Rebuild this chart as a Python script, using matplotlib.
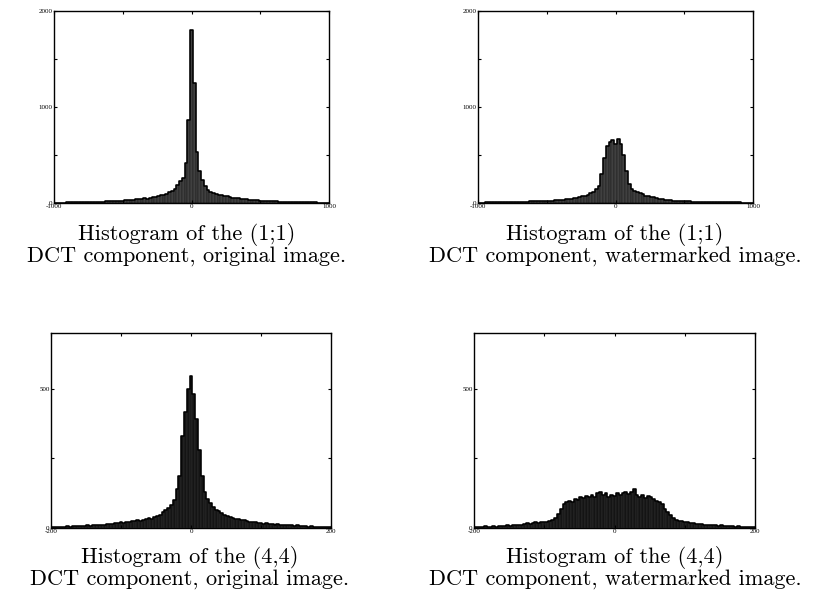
import numpy as np
from matplotlib import pyplot as plt

# 直方图数据 (1;1) 分量, bin 宽 20, 中心 -1000..1000
x11 = np.arange(-1000, 1001, 20)
orig11 = [4, 4, 5, 5, 5, 6, 6, 7, 7, 8,
          8, 9, 10, 10, 11, 12, 12, 14, 15, 16,
          17, 19, 21, 22, 24, 26, 28, 30, 32, 34,
          37, 39, 42, 52, 46, 50, 58, 62, 70, 82,
          88, 95, 112, 125, 145, 185, 225, 260, 420, 860,
          1800,
          1250, 530, 330, 235, 175, 135, 115, 105, 95, 88,
          80, 74, 68, 62, 56, 52, 48, 44, 40, 38,
          35, 32, 30, 28, 26, 24, 22, 20, 22, 18,
          16, 15, 14, 13, 12, 11, 10, 10, 9, 8,
          8, 7, 7, 6, 6, 5, 5, 5, 4, 4]
wm11 = [5, 5, 5, 6, 6, 6, 7, 7, 8, 8,
        9, 9, 10, 11, 11, 12, 13, 14, 15, 16,
        17, 18, 22, 20, 21, 22, 24, 26, 28, 30,
        32, 35, 37, 40, 44, 48, 54, 60, 68, 78,
        88, 100, 118, 145, 175, 300, 470, 590, 640, 655,
        610,
        670, 610, 500, 330, 200, 150, 125, 112, 100, 90,
        78, 70, 62, 58, 50, 42, 38, 35, 32, 30,
        26, 24, 22, 20, 18, 17, 16, 15, 14, 13,
        12, 11, 11, 10, 10, 9, 9, 8, 8, 7,
        7, 7, 6, 6, 6, 5, 5, 5, 5, 5]

# (4,4) 分量, bin 宽 4, 中心 -200..200
x44 = np.arange(-200, 201, 4)
orig44 = [3, 4, 3, 5, 4, 5, 6, 5, 6, 7,
          6, 8, 7, 9, 8, 10, 9, 11, 10, 12,
          15, 13, 16, 18, 17, 20, 18, 22, 21, 25,
          24, 27, 25, 30, 33, 36, 34, 40, 44, 48,
          56, 64, 72, 84, 100, 140, 185, 330, 415, 500,
          545,
          480, 390, 280, 185, 128, 105, 88, 76, 66, 60,
          54, 48, 44, 40, 36, 34, 31, 28, 27, 25,
          22, 23, 20, 19, 18, 16, 17, 14, 15, 12,
          13, 11, 10, 11, 9, 10, 8, 9, 7, 6,
          7, 5, 6, 5, 4, 5, 4, 3, 4, 3]
wm44 = [4, 5, 4, 5, 6, 4, 5, 6, 5, 6,
        7, 6, 9, 8, 11, 10, 12, 11, 16, 18,
        15, 19, 20, 18, 21, 20, 22, 24, 28, 35,
        50, 68, 85, 92, 98, 95, 104, 100, 110, 106,
        115, 110, 120, 112, 126, 130, 118, 124, 112, 120,
        116,
        126, 118, 124, 130, 122, 128, 140, 120, 112, 118,
        108, 114, 110, 104, 98, 92, 85, 70, 58, 45,
        36, 30, 26, 24, 22, 20, 18, 19, 16, 14,
        15, 12, 11, 12, 10, 9, 8, 9, 7, 6,
        7, 6, 5, 6, 5, 4, 5, 4, 3, 4]

captions = [["Histogram of the (1;1)", "DCT component, original image."],
            ["Histogram of the (1;1)", "DCT component, watermarked image."],
            ["Histogram of the (4,4)", "DCT component, original image."],
            ["Histogram of the (4,4)", "DCT component, watermarked image."]]

W, H = 817, 601


def draw_hist(rect, x, y, width, xlim, ylim, xticks, xlabels, yticks, ylabels,
              face, edge):
    '画一个直方图面板'
    l, t, r, b = rect
    ax = fig.add_axes([l / W, 1 - b / H, (r - l) / W, (b - t) / H])
    ax.bar(x, y, width=width, color=face, edgecolor=edge, linewidth=0.3)
    ax.step(x, y, where='mid', color='k', linewidth=1.1)
    ax.set_xlim(xlim)
    ax.set_ylim(ylim)
    ax.set_xticks(xticks)
    ax.set_xticklabels(xlabels)
    ax.set_yticks(yticks)
    ax.set_yticklabels(ylabels)
    ax.tick_params(direction='in', length=2.2, width=0.8, labelsize=5,
                   top=True, right=True, pad=1)
    for lab in ax.get_xticklabels() + ax.get_yticklabels():
        lab.set_fontfamily('Liberation Serif')
    for sp in ax.spines.values():
        sp.set_linewidth(1.0)
    return ax


fig = plt.figure(figsize=(W / 100, H / 100), dpi=100)

xt1 = [-1000, -500, 0, 500, 1000]
xl1 = ['-1000', '', '0', '', '1000']
yt1 = [0, 500, 1000, 1500, 2000]
yl1 = ['0', '', '1000', '', '2000']
draw_hist((54, 11, 329, 203), x11, orig11, 20, (-1000, 1000), (0, 2000),
          xt1, xl1, yt1, yl1, '#404040', '#151515')
draw_hist((478, 11, 753, 203), x11, wm11, 20, (-1000, 1000), (0, 2000),
          xt1, xl1, yt1, yl1, '#404040', '#151515')

xt2 = [-200, -100, 0, 100, 200]
xl2 = ['-200', '', '0', '', '200']
yt2 = [0, 250, 500]
yl2 = ['0', '', '500']
draw_hist((51, 333, 331, 528), x44, orig44, 4, (-200, 200), (0, 700),
          xt2, xl2, yt2, yl2, '#141414', '#3a3a3a')
draw_hist((474, 333, 755, 528), x44, wm44, 4, (-200, 200), (0, 700),
          xt2, xl2, yt2, yl2, '#141414', '#3a3a3a')

# 图下说明文字
cap_pos = [(187, 240), (615, 240), (190, 563), (615, 563)]
for (cx, cy), (line1, line2) in zip(cap_pos, captions):
    fig.text(cx / W, 1 - cy / H, line1, ha='center', va='baseline',
             fontsize=16, family='cmr10')
    fig.text(cx / W, 1 - (cy + 22) / H, line2, ha='center', va='baseline',
             fontsize=16, family='cmr10')

fig.savefig('out.png', dpi=100)
